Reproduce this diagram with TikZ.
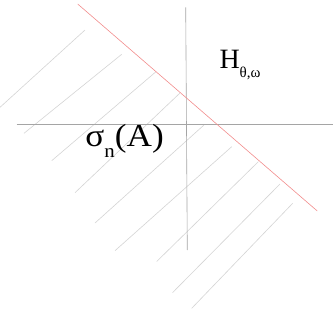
\documentclass[tikz,border=0pt]{standalone}
\usepackage{fontspec}
\setmainfont{Liberation Serif}
\definecolor{hatchgray}{RGB}{212,212,212}
\definecolor{axisgray}{RGB}{165,165,165}
\definecolor{planered}{RGB}{242,140,140}
\begin{document}
\begin{tikzpicture}[x=1bp, y=-1bp, line width=0.6bp,
    every node/.style={inner sep=0pt, outer sep=0pt}]
    \useasboundingbox (0,0) rectangle (333,309);
    % hatching of the half plane
    \foreach \xa/\ya/\xb/\yb in {0/107.3/85/30, 24/133.3/121.7/54.3, 51.7/160.7/156/71.7,
        75/192.7/180/93, 95/223/204/125, 115/250.7/231.7/146.7, 156.7/261.5/258.3/161.7,
        172.5/292.7/280/184, 191.7/308.3/292.7/203.3} {
        \draw[hatchgray] (\xa,\ya) -- (\xb,\yb);
    }
    % axes
    \draw[axisgray] (16.7,124.3) -- (333,124.3);
    \draw[axisgray] (185.7,7.3) -- (187.3,250);
    % boundary line
    \draw[planered] (77.7,4) -- (317.3,211);
    \node[anchor=base west, xscale=1.1, font=\fontsize{32bp}{32bp}\selectfont] (sigma) at (85.5,146.5)
        {σ\raisebox{-11bp}{\fontsize{19bp}{19bp}\selectfont n}(A)};
    \node[anchor=base west, font=\fontsize{28bp}{28bp}\selectfont] (H) at (219.5,68)
        {H\raisebox{-9bp}{\fontsize{15bp}{15bp}\selectfont θ,ω}};
\end{tikzpicture}
\end{document}
